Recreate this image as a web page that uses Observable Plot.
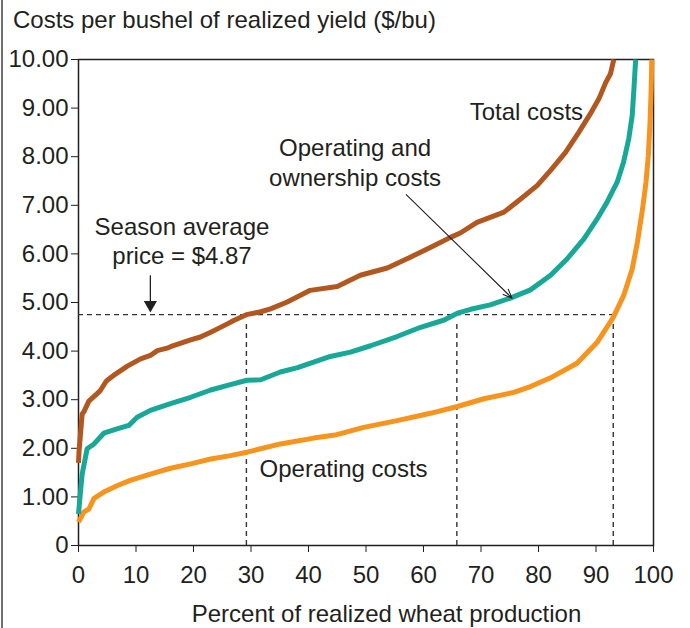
<!DOCTYPE html>
<html>
<head>
<meta charset="utf-8">
<script src="https://cdn.jsdelivr.net/npm/d3@7"></script>
<script src="https://cdn.jsdelivr.net/npm/@observablehq/plot@0.6"></script>
<style>
  html, body { margin: 0; padding: 0; background: #fff; }
  #wrap { position: relative; width: 690px; height: 628px; overflow: hidden; font-family: "Liberation Sans", Arial, Helvetica, sans-serif; color: #231f20; }
  #edge { position: absolute; left: 1px; top: 0; width: 2px; height: 628px; background: #6f6f6f; }
  #title { position: absolute; left: 13px; top: 7.7px; font-size: 24px; line-height: 24px; white-space: nowrap; }
  #chart { position: absolute; left: 0; top: 40px; }
</style>
</head>
<body>
<div id="wrap">
  <div id="edge"></div>
  <div id="title">Costs per bushel of realized yield ($/bu)</div>
  <div id="chart"></div>
</div>
<script>
// ---- Data ----
const xTicks = [0, 10, 20, 30, 40, 50, 60, 70, 80, 90, 100];
const yTicks = [0, 1, 2, 3, 4, 5, 6, 7, 8, 9, 10];

const totalX = [0, 0.1, 0.3, 0.64, 0.93, 1.8, 3.2, 3.8, 4.7, 5, 6.1, 8.5, 10.8, 12.5, 13.7, 15.4, 16, 19.5, 21.2, 23, 25.9, 27, 29.2, 31.7, 33.4, 36.3, 40.3, 45, 49, 53.7, 57.7, 61.8, 64.7, 66.4, 69.3, 74, 76.9, 79.8, 82.1, 84.7, 87, 89, 90.5, 91.7, 92.5, 93.1];
const totalY = [1.7, 1.95, 2.23, 2.71, 2.75, 2.97, 3.12, 3.19, 3.36, 3.40, 3.50, 3.69, 3.84, 3.91, 4.01, 4.06, 4.09, 4.23, 4.29, 4.39, 4.56, 4.63, 4.75, 4.81, 4.87, 5.01, 5.25, 5.33, 5.56, 5.71, 5.93, 6.17, 6.34, 6.43, 6.65, 6.86, 7.13, 7.41, 7.72, 8.09, 8.50, 8.88, 9.19, 9.53, 9.70, 10.0];

const opOwnX = [0, 0.3, 0.64, 1.5, 2.7, 4.4, 6.7, 8.75, 10.2, 12.5, 16, 19.5, 23, 26.4, 29.3, 31.7, 35.1, 38.1, 43.8, 47.3, 50.8, 55.4, 59.5, 63.6, 65.9, 68.2, 71.6, 75.1, 78.6, 82.1, 85, 87.9, 90.2, 91.9, 93.7, 94.8, 95.7, 96.3, 96.6, 96.9];
const opOwnY = [0.65, 1.05, 1.47, 1.99, 2.09, 2.31, 2.40, 2.47, 2.64, 2.78, 2.92, 3.05, 3.20, 3.31, 3.40, 3.41, 3.57, 3.66, 3.89, 3.98, 4.11, 4.30, 4.49, 4.64, 4.78, 4.86, 4.95, 5.09, 5.26, 5.56, 5.90, 6.31, 6.72, 7.06, 7.48, 7.89, 8.37, 8.85, 9.40, 10.0];

const opX = [0, 0.93, 1.8, 2.7, 4.4, 6.7, 9, 12.5, 16, 19.5, 23, 26.4, 29.3, 35.1, 40.9, 44.9, 49.6, 55.4, 61.2, 65.9, 70.5, 75.7, 78.6, 82.1, 86.7, 90.2, 92.5, 93.1, 94.8, 96.3, 97.2, 98.1, 98.7, 99.1, 99.4, 99.6, 99.7];
const opY = [0.48, 0.69, 0.75, 0.97, 1.10, 1.23, 1.34, 1.47, 1.59, 1.68, 1.78, 1.85, 1.92, 2.09, 2.21, 2.28, 2.43, 2.57, 2.72, 2.86, 3.02, 3.15, 3.27, 3.45, 3.75, 4.18, 4.60, 4.72, 5.14, 5.69, 6.24, 6.93, 7.48, 8.02, 8.71, 9.40, 10.0];

// season average price reference and intersection shares
const priceLevel = 4.75;
const crossX = [29.2, 65.8, 93.0];

// annotations
const labelText = ["Season average\nprice = $4.87", "Operating and\nownership costs", "Total costs", "Operating costs"];
const labelX = [18.0, 48.1, 77.9, 46.1];
const labelY = [6.28, 7.90, 8.94, 1.61];
const seasonArrowX = 12.5;
const seasonArrowY = [5.56, 4.95];
const ownArrow = {x1: 57.0, y1: 7.22, x2: 75.4, y2: 5.09};

const colors = {total: "#b1571f", opOwn: "#17a898", op: "#f7941d"};

const toRows = (xs, ys) => xs.map((x, i) => ({x, y: ys[i]}));
const totalRows = toRows(totalX, totalY);
const opOwnRows = toRows(opOwnX, opOwnY);
const opRows = toRows(opX, opY);
const labelRows = labelText.map((t, i) => ({t, x: labelX[i], y: labelY[i]}));

const chart = Plot.plot({
  width: 690,
  height: 588,
  marginLeft: 78,
  marginRight: 37,
  marginTop: 19,
  marginBottom: 83,
  style: {fontFamily: "'Liberation Sans', Arial, Helvetica, sans-serif", fontSize: "24px", color: "#231f20", background: "transparent", overflow: "visible"},
  x: {domain: [0, 100], ticks: xTicks, tickSize: 7, tickPadding: 13.5, label: null},
  y: {domain: [0, 10], ticks: yTicks, tickSize: 7, tickPadding: 3, label: null, tickFormat: d => d === 0 ? "0" : d.toFixed(2)},
  marks: [
    Plot.frame({stroke: "#231f20", strokeWidth: 1.5}),
    // dashed reference lines
    Plot.ruleY([priceLevel], {x1: 0, x2: crossX[2], stroke: "#333", strokeWidth: 1.4, strokeDasharray: "5,4"}),
    Plot.ruleX(crossX, {y1: 0, y2: priceLevel, stroke: "#333", strokeWidth: 1.4, strokeDasharray: "5,4", insetBottom: -8}),
    // curves
    Plot.line(opRows, {x: "x", y: "y", stroke: colors.op, strokeWidth: 5, strokeLinejoin: "round", strokeLinecap: "butt"}),
    Plot.line(opOwnRows, {x: "x", y: "y", stroke: colors.opOwn, strokeWidth: 5, strokeLinejoin: "round", strokeLinecap: "butt"}),
    Plot.line(totalRows, {x: "x", y: "y", stroke: colors.total, strokeWidth: 5, strokeLinejoin: "round", strokeLinecap: "butt"}),
    // season arrow
    Plot.link([0], {x1: () => seasonArrowX, x2: () => seasonArrowX, y1: () => seasonArrowY[0], y2: () => seasonArrowY[1], stroke: "#231f20", strokeWidth: 1.3}),
    Plot.dot([0], {x: () => seasonArrowX, y: () => seasonArrowY[1], symbol: "triangle", r: 4.9, rotate: 180, fill: "#231f20", stroke: "none"}),
    // ownership arrow
    Plot.arrow([ownArrow], {x1: "x1", y1: "y1", x2: "x2", y2: "y2", stroke: "#231f20", strokeWidth: 1.1, headLength: 13, headAngle: 45, bend: 0}),
    // labels
    Plot.text(labelRows, {x: "x", y: "y", text: "t", textAnchor: "middle", lineAnchor: "middle", lineHeight: 1.23, fontSize: 24, fill: "#231f20"}),
    Plot.text(["Percent of realized wheat production"], {frameAnchor: "bottom", dx: 20.5, dy: 69, lineAnchor: "middle", fontSize: 24, fill: "#231f20"})
  ]
});
document.getElementById("chart").appendChild(chart);
</script>
</body>
</html>
